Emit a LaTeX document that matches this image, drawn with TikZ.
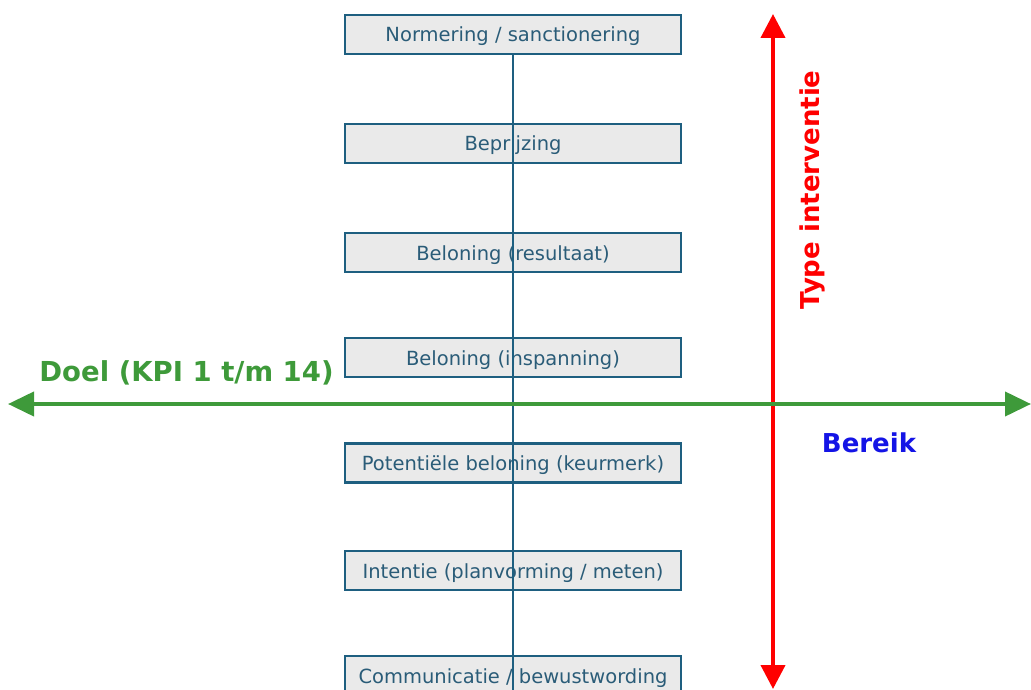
\documentclass[tikz,border=0pt]{standalone}
\usepackage{fontspec}
\setmainfont{DejaVu Sans}
\usetikzlibrary{arrows.meta}
\definecolor{boxline}{HTML}{1E5F80}
\definecolor{boxtext}{HTML}{2A5C78}
\definecolor{boxfill}{HTML}{EAEAEA}
\definecolor{goalgreen}{HTML}{3E9A3A}
\definecolor{reachblue}{HTML}{1414E6}
\begin{document}
\begin{tikzpicture}[x=1pt,y=-1pt,
  levelbox/.style={draw=boxline, line width=2.2pt, fill=boxfill, minimum width=336pt,
    minimum height=39pt, inner sep=0pt, text height=17pt, text depth=2pt,
    text=boxtext, font=\fontsize{19.5}{23}\selectfont},
  axislabel/.style={font=\bfseries\fontsize{26}{30}\selectfont, inner sep=0pt}]
\useasboundingbox (0,0) rectangle (1031,690);
% intervention levels
\node[levelbox] (b1) at (513,34.5) {Normering / sanctionering};
\node[levelbox] (b2) at (513,143.5) {Beprijzing};
\node[levelbox] (b3) at (513,252.5) {Beloning (resultaat)};
\node[levelbox] (b4) at (513,357.5) {Beloning (inspanning)};
\node[levelbox] (b5) at (513,463) {Potentiële beloning (keurmerk)};
\node[levelbox] (b6) at (513,570.5) {Intentie (planvorming / meten)};
\node[levelbox] (b7) at (513,675.5) {Communicatie / bewustwording};
\coordinate (spineend) at (513,690);
\draw[boxline, line width=2.2pt] (b1.south) -- (spineend);
% vertical axis: type of intervention
\coordinate (redtop) at (773,14);
\coordinate (redbot) at (773,689);
\draw[red, line width=4pt, {Triangle[width=24pt,length=24pt]}-{Triangle[width=24pt,length=24pt]}] (redtop) -- (redbot);
\node[axislabel, text=red, rotate=90] (typelbl) at (812,190) {Type interventie};
% horizontal axis: goal and reach
\coordinate (greenleft) at (8,404);
\coordinate (greenright) at (1031,404);
\draw[goalgreen, line width=4pt, {Triangle[width=24pt,length=26pt]}-{Triangle[width=24pt,length=26pt]}] (greenleft) -- (greenright);
\node[axislabel, text=goalgreen, font=\bfseries\fontsize{27.5}{32}\selectfont] (doel) at (186.5,373) {Doel (KPI 1 t/m 14)};
\node[axislabel, text=reachblue] (bereik) at (869,443) {Bereik};
\end{tikzpicture}
\end{document}
